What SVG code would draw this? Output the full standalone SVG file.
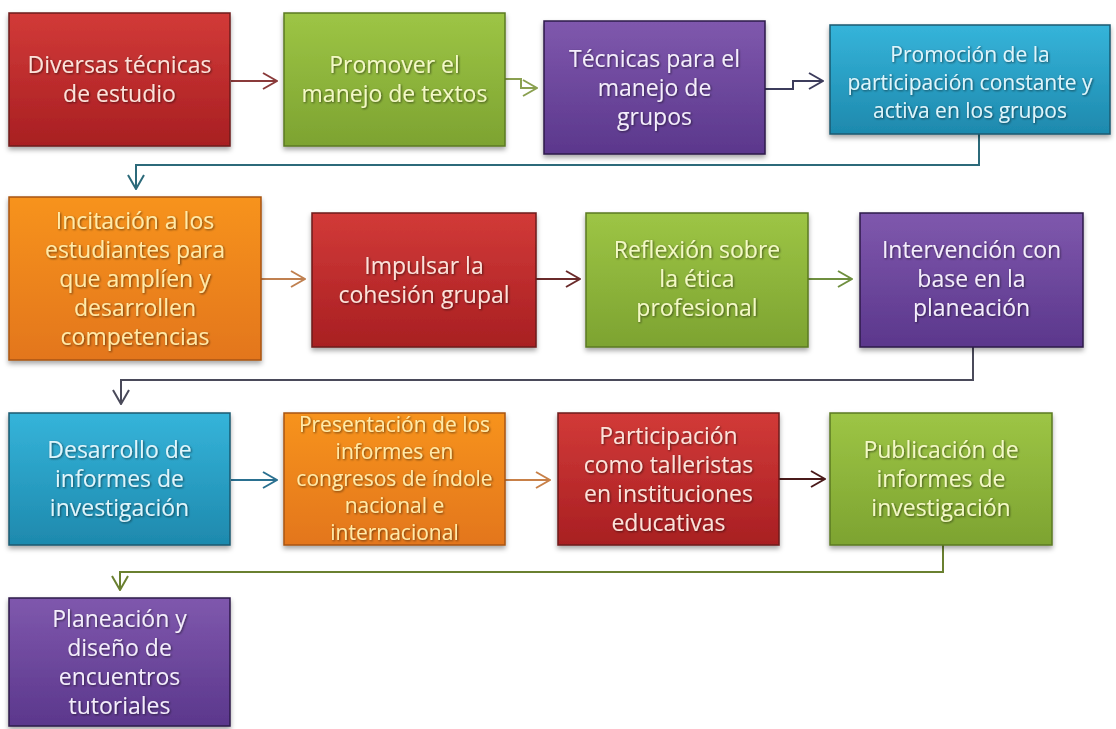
<svg xmlns="http://www.w3.org/2000/svg" width="1116" height="729" viewBox="0 0 1116 729">
<defs>
<linearGradient id="gRed" x1="0" y1="0" x2="0" y2="1"><stop offset="0" stop-color="#d23a38"/><stop offset="1" stop-color="#a81f22"/></linearGradient>
<linearGradient id="gGreen" x1="0" y1="0" x2="0" y2="1"><stop offset="0" stop-color="#9dc545"/><stop offset="1" stop-color="#7da331"/></linearGradient>
<linearGradient id="gPurple" x1="0" y1="0" x2="0" y2="1"><stop offset="0" stop-color="#7f58ad"/><stop offset="1" stop-color="#5b378c"/></linearGradient>
<linearGradient id="gBlue" x1="0" y1="0" x2="0" y2="1"><stop offset="0" stop-color="#35b4da"/><stop offset="1" stop-color="#1e89ad"/></linearGradient>
<linearGradient id="gOrange" x1="0" y1="0" x2="0" y2="1"><stop offset="0" stop-color="#f7931f"/><stop offset="1" stop-color="#e3761a"/></linearGradient>
<filter id="boxShadow" x="-10%" y="-10%" width="120%" height="130%"><feDropShadow dx="0" dy="3" stdDeviation="2.5" flood-color="#000" flood-opacity="0.35"/></filter>
<filter id="txtShadow" x="-10%" y="-30%" width="120%" height="160%"><feDropShadow dx="1" dy="1" stdDeviation="1" flood-color="#000" flood-opacity="0.55"/></filter>
<marker id="m1" viewBox="0 0 16 18" refX="15" refY="9" markerWidth="16" markerHeight="18" markerUnits="userSpaceOnUse" orient="auto"><path d="M1,1 L15,9 L1,17" fill="none" stroke="#8a3a3a" stroke-width="2"/></marker>
<marker id="m2" viewBox="0 0 16 18" refX="15" refY="9" markerWidth="16" markerHeight="18" markerUnits="userSpaceOnUse" orient="auto"><path d="M1,1 L15,9 L1,17" fill="none" stroke="#8aa050" stroke-width="2"/></marker>
<marker id="m3" viewBox="0 0 16 18" refX="15" refY="9" markerWidth="16" markerHeight="18" markerUnits="userSpaceOnUse" orient="auto"><path d="M1,1 L15,9 L1,17" fill="none" stroke="#3c3c5c" stroke-width="2"/></marker>
<marker id="m4" viewBox="0 0 16 18" refX="15" refY="9" markerWidth="16" markerHeight="18" markerUnits="userSpaceOnUse" orient="auto"><path d="M1,1 L15,9 L1,17" fill="none" stroke="#2c6a7a" stroke-width="2"/></marker>
<marker id="m5" viewBox="0 0 16 18" refX="15" refY="9" markerWidth="16" markerHeight="18" markerUnits="userSpaceOnUse" orient="auto"><path d="M1,1 L15,9 L1,17" fill="none" stroke="#c08050" stroke-width="2"/></marker>
<marker id="m6" viewBox="0 0 16 18" refX="15" refY="9" markerWidth="16" markerHeight="18" markerUnits="userSpaceOnUse" orient="auto"><path d="M1,1 L15,9 L1,17" fill="none" stroke="#6a2a2a" stroke-width="2"/></marker>
<marker id="m7" viewBox="0 0 16 18" refX="15" refY="9" markerWidth="16" markerHeight="18" markerUnits="userSpaceOnUse" orient="auto"><path d="M1,1 L15,9 L1,17" fill="none" stroke="#6f8f3f" stroke-width="2"/></marker>
<marker id="m8" viewBox="0 0 16 18" refX="15" refY="9" markerWidth="16" markerHeight="18" markerUnits="userSpaceOnUse" orient="auto"><path d="M1,1 L15,9 L1,17" fill="none" stroke="#4a4a5a" stroke-width="2"/></marker>
<marker id="m9" viewBox="0 0 16 18" refX="15" refY="9" markerWidth="16" markerHeight="18" markerUnits="userSpaceOnUse" orient="auto"><path d="M1,1 L15,9 L1,17" fill="none" stroke="#2a7090" stroke-width="2"/></marker>
<marker id="m10" viewBox="0 0 16 18" refX="15" refY="9" markerWidth="16" markerHeight="18" markerUnits="userSpaceOnUse" orient="auto"><path d="M1,1 L15,9 L1,17" fill="none" stroke="#c88048" stroke-width="2"/></marker>
<marker id="m11" viewBox="0 0 16 18" refX="15" refY="9" markerWidth="16" markerHeight="18" markerUnits="userSpaceOnUse" orient="auto"><path d="M1,1 L15,9 L1,17" fill="none" stroke="#4a1a1a" stroke-width="2"/></marker>
<marker id="m12" viewBox="0 0 16 18" refX="15" refY="9" markerWidth="16" markerHeight="18" markerUnits="userSpaceOnUse" orient="auto"><path d="M1,1 L15,9 L1,17" fill="none" stroke="#6a8030" stroke-width="2"/></marker>
</defs>
<style>
.box{filter:url(#boxShadow);stroke-width:1.5}
.red{fill:url(#gRed);stroke:#6e1a1a}
.green{fill:url(#gGreen);stroke:#5b7a22}
.purple{fill:url(#gPurple);stroke:#2e1a4a}
.blue{fill:url(#gBlue);stroke:#1a5a70}
.orange{fill:url(#gOrange);stroke:#a85510}
text{font-family:"Open Sans","Noto Sans","DejaVu Sans",sans-serif;font-size:23px;text-anchor:middle;filter:url(#txtShadow)}
.tred{fill:#fbe2da}
.tgreen{fill:#f3f8c6}
.tpurple{fill:#f4eefb}
.tblue{fill:#e0f5fb}
.torange{fill:#ffeaa8}
.sm{font-size:21px}
.conn{fill:none;stroke-width:2}
</style>
<rect x="0" y="0" width="1116" height="729" fill="#ffffff"/>
<g id="connectors">
<path class="conn" stroke="#8a3a3a" marker-end="url(#m1)" d="M231,81 H277"/>
<path class="conn" stroke="#8aa050" marker-end="url(#m2)" d="M505,79 H521 V88 H537"/>
<path class="conn" stroke="#3c3c5c" marker-end="url(#m3)" d="M765,89 H793 V81 H823"/>
<path class="conn" stroke="#2c6a7a" marker-end="url(#m4)" d="M979,134 V165 H136 V189"/>
<path class="conn" stroke="#c08050" marker-end="url(#m5)" d="M261,279 H305"/>
<path class="conn" stroke="#6a2a2a" marker-end="url(#m6)" d="M536,279 H580"/>
<path class="conn" stroke="#6f8f3f" marker-end="url(#m7)" d="M808,279 H852"/>
<path class="conn" stroke="#4a4a5a" marker-end="url(#m8)" d="M973,347 V380 H121 V404"/>
<path class="conn" stroke="#2a7090" marker-end="url(#m9)" d="M231,480 H277"/>
<path class="conn" stroke="#c88048" marker-end="url(#m10)" d="M505,480 H550"/>
<path class="conn" stroke="#4a1a1a" marker-end="url(#m11)" d="M779,479 H825"/>
<path class="conn" stroke="#6a8030" marker-end="url(#m12)" d="M943,545 V572 H120 V590"/>
</g>
<g id="n1"><rect class="box red" x="9" y="13" width="221" height="133"/><text class="tred" x="119.5" y="73">Diversas técnicas</text><text class="tred" x="119.5" y="102">de estudio</text></g>
<g id="n2"><rect class="box green" x="284" y="13" width="221" height="133"/><text class="tgreen" x="394.5" y="73">Promover el</text><text class="tgreen" x="394.5" y="102">manejo de textos</text></g>
<g id="n3"><rect class="box purple" x="544" y="21" width="221" height="133"/><text class="tpurple" x="654.5" y="67">Técnicas para el</text><text class="tpurple" x="654.5" y="96">manejo de</text><text class="tpurple" x="654.5" y="125">grupos</text></g>
<g id="n4"><rect class="box blue" x="830" y="25" width="280" height="109"/><text class="tblue sm" x="970" y="62">Promoción de la</text><text class="tblue sm" x="970" y="90">participación constante y</text><text class="tblue sm" x="970" y="118">activa en los grupos</text></g>
<g id="n5"><rect class="box orange" x="9" y="197" width="252" height="163"/><text class="torange" x="135" y="228.5">Incitación a los</text><text class="torange" x="135" y="257.5">estudiantes para</text><text class="torange" x="135" y="286.5">que amplíen y</text><text class="torange" x="135" y="315.5">desarrollen</text><text class="torange" x="135" y="344.5">competencias</text></g>
<g id="n6"><rect class="box red" x="312" y="213" width="224" height="134"/><text class="tred" x="424" y="274">Impulsar la</text><text class="tred" x="424" y="303">cohesión grupal</text></g>
<g id="n7"><rect class="box green" x="586" y="213" width="222" height="134"/><text class="tgreen" x="697" y="258">Reflexión sobre</text><text class="tgreen" x="697" y="287">la ética</text><text class="tgreen" x="697" y="316">profesional</text></g>
<g id="n8"><rect class="box purple" x="860" y="213" width="223" height="134"/><text class="tpurple" x="971.5" y="258">Intervención con</text><text class="tpurple" x="971.5" y="287">base en la</text><text class="tpurple" x="971.5" y="316">planeación</text></g>
<g id="n9"><rect class="box blue" x="9" y="413" width="221" height="132"/><text class="tblue" x="119.5" y="458">Desarrollo de</text><text class="tblue" x="119.5" y="487">informes de</text><text class="tblue" x="119.5" y="516">investigación</text></g>
<g id="n10"><rect class="box orange" x="284" y="413" width="221" height="132"/><text class="torange sm" x="394.5" y="432">Presentación de los</text><text class="torange sm" x="394.5" y="459">informes en</text><text class="torange sm" x="394.5" y="486">congresos de índole</text><text class="torange sm" x="394.5" y="513">nacional e</text><text class="torange sm" x="394.5" y="540">internacional</text></g>
<g id="n11"><rect class="box red" x="558" y="413" width="221" height="132"/><text class="tred" x="668.5" y="443.5">Participación</text><text class="tred" x="668.5" y="472.5">como talleristas</text><text class="tred" x="668.5" y="501.5">en instituciones</text><text class="tred" x="668.5" y="530.5">educativas</text></g>
<g id="n12"><rect class="box green" x="830" y="413" width="222" height="132"/><text class="tgreen" x="941" y="458">Publicación de</text><text class="tgreen" x="941" y="487">informes de</text><text class="tgreen" x="941" y="516">investigación</text></g>
<g id="n13"><rect class="box purple" x="9" y="598" width="221" height="128"/><text class="tpurple" x="119.5" y="626.5">Planeación y</text><text class="tpurple" x="119.5" y="655.5">diseño de</text><text class="tpurple" x="119.5" y="684.5">encuentros</text><text class="tpurple" x="119.5" y="713.5">tutoriales</text></g>
</svg>
